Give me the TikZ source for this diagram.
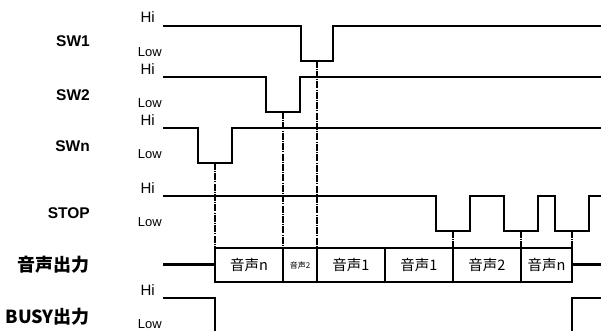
\documentclass[tikz,border=0pt]{standalone}
\usepackage{fontspec}
\setmainfont{Liberation Sans}
\newfontfamily\jpfont{Noto Sans CJK JP}
\usetikzlibrary{calc}
\tikzset{>=latex}
\tikzset{
  wave/.style={line width=2.2pt},
  guide/.style={line width=1.6pt, dash pattern=on 7pt off 1.2pt on 1pt off 1.2pt},
  siglabel/.style={anchor=east, inner sep=0pt, font=\bfseries\fontsize{15.5}{15.5}\selectfont},
  jplabel/.style={anchor=east, inner sep=0pt, font=\jpfont\bfseries\fontsize{18}{18}\selectfont},
  hilabel/.style={anchor=east, inner sep=0pt, font=\fontsize{15}{15}\selectfont},
  lowlabel/.style={anchor=east, inner sep=0pt, font=\fontsize{13}{13}\selectfont},
  voice/.style={inner sep=0pt, font=\jpfont\fontsize{14.5}{14.5}\selectfont},
}

\begin{document}
\begin{tikzpicture}[x=1pt,y=-1pt]
  \useasboundingbox (0,0) rectangle (601,331);
  % signal names
  \node[siglabel] (sw1) at (90,41) {SW1};
  \node[siglabel] (sw2) at (90,95) {SW2};
  \node[siglabel] (swn) at (90,146) {SWn};
  \node[siglabel] (stop) at (90,213) {STOP};
  \node[jplabel] (out) at (90,265) {音声出力};
  \node[jplabel] (busy) at (90,317) {BUSY出力};
  % levels
  \foreach \hy/\ly/\n in {17/52.5/a, 69/103.5/b, 120/154.5/c, 188/222.5/d, 290.5/324.5/e}{
    \node[hilabel] (hi\n) at (155,\hy) {Hi};
    \node[lowlabel] (low\n) at (162,\ly) {Low};
  }
  % SW1
  \draw[wave] (163,25.7) -| (301,60.7) -| (333,25.7) -- (601,25.7);
  % SW2
  \draw[wave] (163,77.3) -| (266,112) -| (300,77.3) -- (601,77.3);
  % SWn
  \draw[wave] (163,128) -| (198,162.7) -| (232,128) -- (601,128);
  % STOP
  \draw[wave] (163,196) -| (435.7,230.7) -| (470,196) -| (504,230.7)
    -| (538,196) -| (555,230.7) -| (589,196) -- (601,196);
  % voice output
  \coordinate (t1) at (215,247.7);
  \coordinate (t2) at (283,247.7);
  \coordinate (t3) at (317,247.7);
  \coordinate (t5) at (453,247.7);
  \coordinate (t6) at (521,247.7);
  \coordinate (t7) at (572,247.7);
  \draw[wave] (163,264.5) -- (215,264.5);
  \draw[wave] (572,264.5) -- (601,264.5);
  \draw[wave] (t1) rectangle (572,281.7);
  \foreach \x in {283,317,385,453,521}
    \draw[wave] (\x,247.7) -- (\x,281.7);
  \node[voice] (v1) at (249,265) {音声n};
  \node[voice, font=\jpfont\fontsize{8}{8}\selectfont] (v2) at (300,265) {音声2};
  \node[voice] (v3) at (351,265) {音声1};
  \node[voice] (v4) at (419,265) {音声1};
  \node[voice] (v5) at (487,265) {音声2};
  \node[voice] (v6) at (546.5,265) {音声n};
  % guides
  \coordinate (s1) at (215,162.7);
  \coordinate (s2) at (283,112);
  \coordinate (s3) at (317,60.7);
  \coordinate (p1) at (453,230.7);
  \coordinate (p2) at (521,230.7);
  \coordinate (p3) at (572,230.7);
  \draw[guide] (s1) -- (t1);
  \draw[guide] (s2) -- (t2);
  \draw[guide] (s3) -- (t3);
  \draw[guide] (p1) -- (t5);
  \draw[guide] (p2) -- (t6);
  \draw[guide] (p3) -- (t7);
  % BUSY
  \draw[wave] (163,298.3) -| (215,331);
  \draw[wave] (572,331) |- (601,298.3);
\end{tikzpicture}
\end{document}
